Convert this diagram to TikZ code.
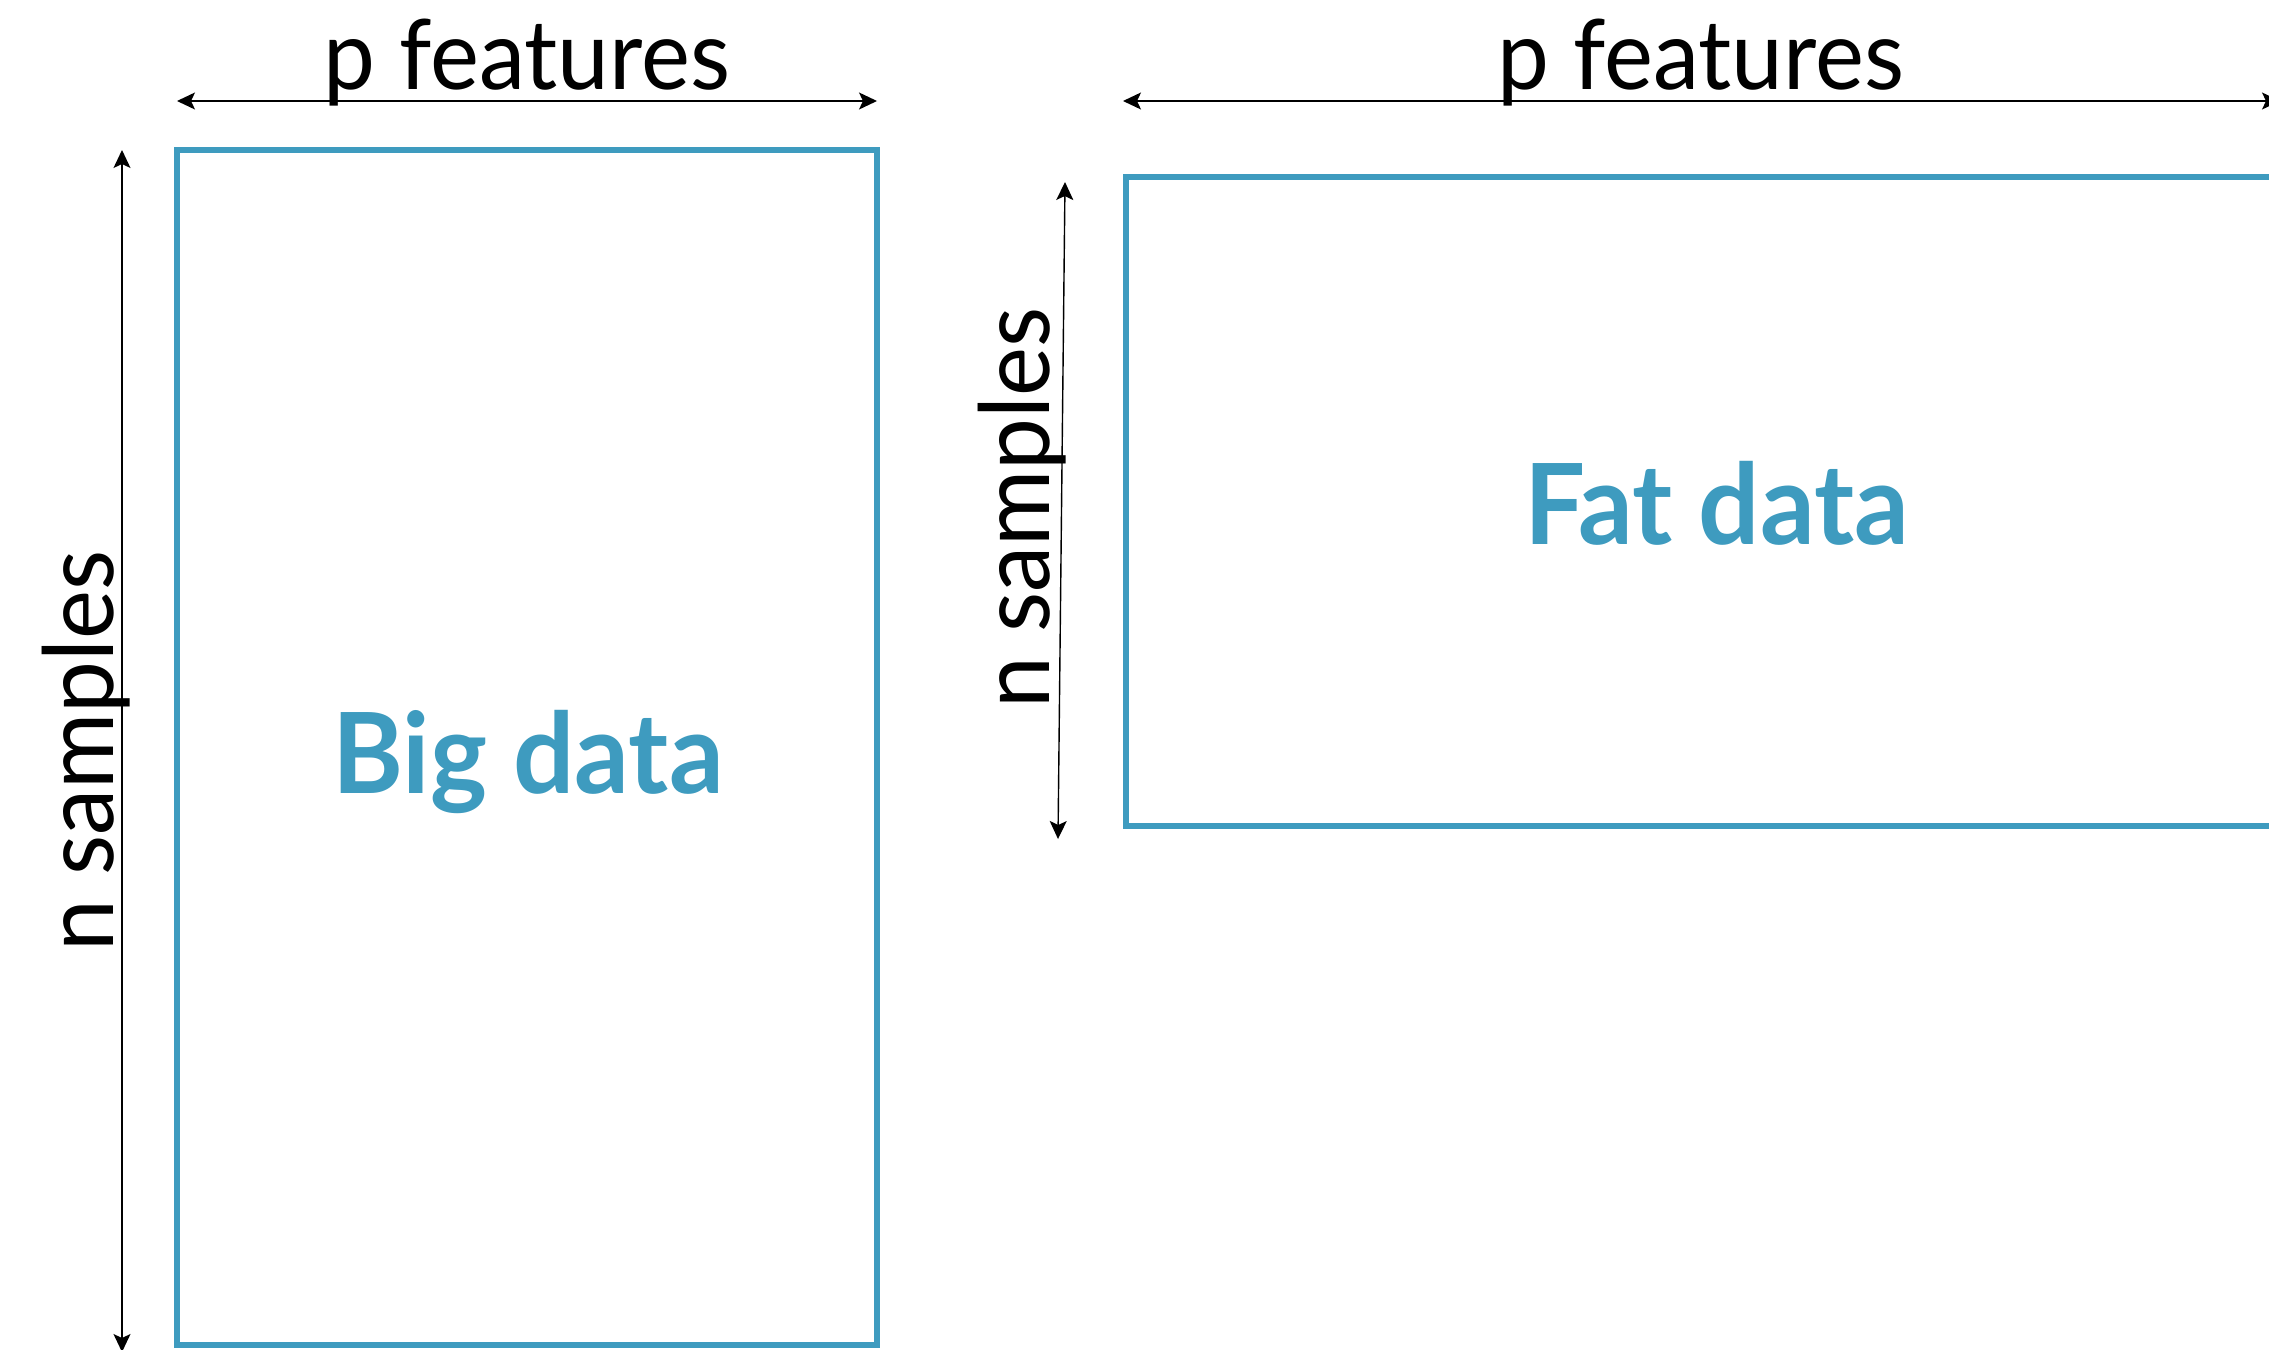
\documentclass[tikz,border=0pt]{standalone}
\usepackage{fontspec}
\setmainfont{Lato}
\newfontfamily\lblfont[FakeStretch=0.955]{Lato}
\newfontfamily\boxfont[FakeStretch=0.965]{Lato}
\usetikzlibrary{arrows.meta}
\definecolor{boxblue}{RGB}{62,155,191}
\tikzset{
  databox/.style={draw=boxblue, line width=3pt, inner sep=0pt, outer sep=0pt, anchor=north west},
  dimarrow/.style={line width=0.7pt, {Stealth[length=9pt,width=8.5pt,inset=2pt]}-{Stealth[length=9pt,width=8.5pt,inset=2pt]}},
  dimlabel/.style={font=\lblfont\fontsize{48.5}{58}\selectfont, inner sep=0pt, anchor=base},
  boxlabel/.style={font=\boxfont\bfseries\fontsize{56}{66}\selectfont, text=boxblue, inner sep=0pt, anchor=base}
}
\begin{document}
\begin{tikzpicture}[x=0.5pt,y=-0.5pt]
\useasboundingbox (0,0) rectangle (2269,1349);
% boxes
\node[databox, minimum width=350pt, minimum height=597.5pt] (bigbox) at (177,150) {};
\node[databox, minimum width=591pt, minimum height=324.5pt] (fatbox) at (1126,177) {};
\node[boxlabel] (biglabel) at (528,793) {Big data};
\node[boxlabel] (fatlabel) at (1717,544) {Fat data};
% dimension arrow ends
\coordinate (lha) at (177,101);
\coordinate (lhb) at (877,101);
\coordinate (lva) at (122,150);
\coordinate (lvb) at (122,1352);
\coordinate (rha) at (1123,101);
\coordinate (rhb) at (2280,101);
\coordinate (rva) at (1065,182);
\coordinate (rvb) at (1058,839);
\draw[dimarrow] (lha) -- (lhb);
\draw[dimarrow] (lva) -- (lvb);
\draw[dimarrow] (rha) -- (rhb);
\draw[dimarrow] (rva) -- (rvb);
% dimension labels
\node[dimlabel] (lp) at (527,89) {p features};
\node[dimlabel] (rp) at (1701,89) {p features};
\node[dimlabel, rotate=90] (ln) at (113,751) {n samples};
\node[dimlabel, rotate=90] (rn) at (1049,508) {n samples};
\end{tikzpicture}
\end{document}
